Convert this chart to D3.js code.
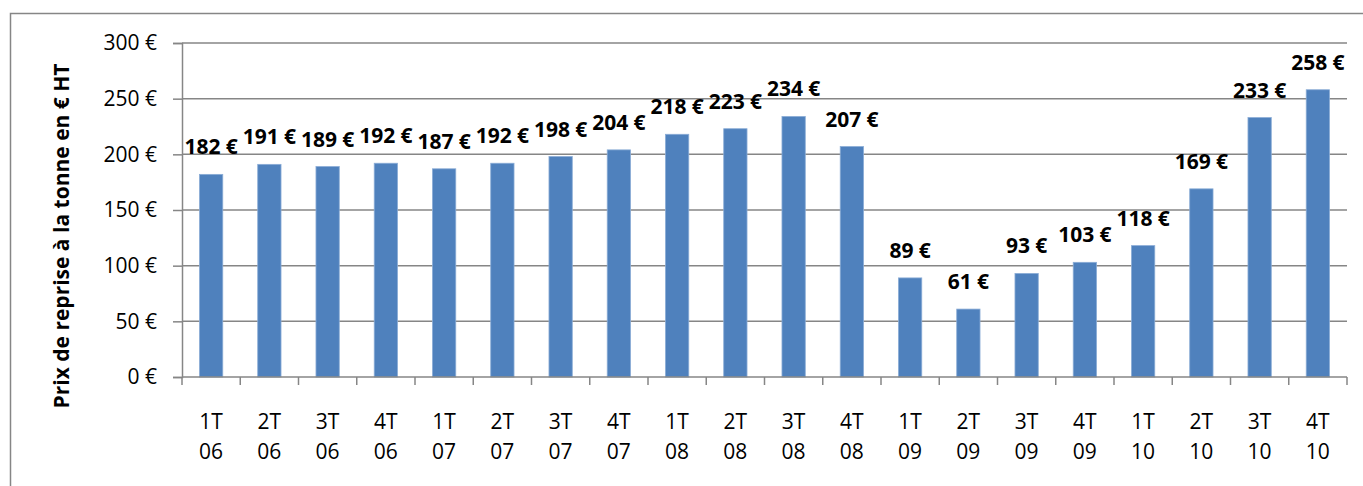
<!DOCTYPE html>
<html>
<head>
<meta charset="utf-8">
<script src="https://cdn.jsdelivr.net/npm/d3@7"></script>
<style>
  body { margin: 0; background: #fff; }
  svg text { font-family: "Open Sans", sans-serif; fill: #000; }
</style>
</head>
<body>
<div id="chart"></div>
<script>
// quarters and price per tonne
var quarters = ["1T", "2T", "3T", "4T", "1T", "2T", "3T", "4T", "1T", "2T", "3T", "4T",
                "1T", "2T", "3T", "4T", "1T", "2T", "3T", "4T"];
var years = ["06", "06", "06", "06", "07", "07", "07", "07", "08", "08", "08", "08",
             "09", "09", "09", "09", "10", "10", "10", "10"];
var prices = [182, 191, 189, 192, 187, 192, 198, 204, 218, 223, 234, 207,
              89, 61, 93, 103, 118, 169, 233, 258];
var yTicks = [0, 50, 100, 150, 200, 250, 300];

var width = 1363, height = 486;
var margin = {left: 182, right: 16, top: 43, bottom: 109};

var svg = d3.select("#chart").append("svg")
    .attr("width", width)
    .attr("height", height);

// outer chart border (runs off the right and bottom edges)
svg.append("rect")
    .attr("x", 10.5).attr("y", 13.5)
    .attr("width", width).attr("height", height)
    .attr("fill", "none")
    .attr("stroke", "#868686")
    .attr("stroke-width", 1.5);

var idx = d3.range(prices.length);

var x = d3.scaleBand()
    .domain(idx)
    .range([margin.left, width - margin.right])
    .paddingInner(0.6)
    .paddingOuter(0.3);

var y = d3.scaleLinear()
    .domain([0, 300])
    .range([height - margin.bottom, margin.top]);

var fmt = function(v) { return v + " \u20ac"; };

// gridlines + y axis
var yAxis = svg.append("g")
    .attr("transform", "translate(" + margin.left + ",0)")
    .call(d3.axisLeft(y).tickValues(yTicks).tickSize(9).tickPadding(16).tickFormat(fmt));
yAxis.select(".domain").attr("stroke", "#868686").attr("stroke-width", 1.5);
yAxis.selectAll(".tick line").attr("stroke", "#868686").attr("stroke-width", 1.5);
yAxis.selectAll(".tick text")
    .style("font-size", "21px")
    .attr("fill", "#000");

svg.append("g").selectAll("line")
    .data(yTicks.filter(function(d) { return d > 0; }))
    .enter().append("line")
    .attr("x1", margin.left).attr("x2", width - margin.right)
    .attr("y1", function(d) { return y(d); })
    .attr("y2", function(d) { return y(d); })
    .attr("stroke", "#868686")
    .attr("stroke-width", 1.5);

// bars
svg.append("g").selectAll("rect")
    .data(idx)
    .enter().append("rect")
    .attr("x", function(i) { return x(i); })
    .attr("width", x.bandwidth())
    .attr("y", function(i) { return y(prices[i]); })
    .attr("height", function(i) { return y(0) - y(prices[i]); })
    .attr("fill", "#4F81BD")
    .attr("stroke", "#8AACD6")
    .attr("stroke-width", 0.8);

// x axis with tick marks at band edges
var colW = (width - margin.right - margin.left) / prices.length;
var xAxisG = svg.append("g")
    .attr("transform", "translate(0," + y(0) + ")");
xAxisG.append("line")
    .attr("x1", margin.left).attr("x2", width - margin.right)
    .attr("stroke", "#868686").attr("stroke-width", 1.5);
xAxisG.selectAll("line.tk")
    .data(d3.range(prices.length + 1))
    .enter().append("line")
    .attr("class", "tk")
    .attr("x1", function(i) { return margin.left + i * colW; })
    .attr("x2", function(i) { return margin.left + i * colW; })
    .attr("y1", 0).attr("y2", 8)
    .attr("stroke", "#868686").attr("stroke-width", 1.5);

var xl = xAxisG.selectAll("text.xl")
    .data(idx)
    .enter().append("text")
    .attr("class", "xl")
    .attr("text-anchor", "middle")
    .style("font-size", "21px");
xl.append("tspan")
    .attr("x", function(i) { return x(i) + x.bandwidth() / 2; })
    .attr("y", 52)
    .text(function(i) { return quarters[i]; });
xl.append("tspan")
    .attr("x", function(i) { return x(i) + x.bandwidth() / 2; })
    .attr("y", 82)
    .text(function(i) { return years[i]; });

// value labels
svg.append("g").selectAll("text")
    .data(idx)
    .enter().append("text")
    .attr("x", function(i) { return x(i) + x.bandwidth() / 2; })
    .attr("y", function(i) { return y(prices[i]) - 20; })
    .attr("text-anchor", "middle")
    .style("font-size", "21px")
    .style("font-weight", "bold")
    .text(function(i) { return fmt(prices[i]); });

// y axis title
svg.append("text")
    .attr("transform", "translate(69,236) rotate(-90)")
    .attr("text-anchor", "middle")
    .style("font-size", "21px")
    .style("font-weight", "bold")
    .text("Prix de reprise \u00e0 la tonne en \u20ac HT");
</script>
</body>
</html>
